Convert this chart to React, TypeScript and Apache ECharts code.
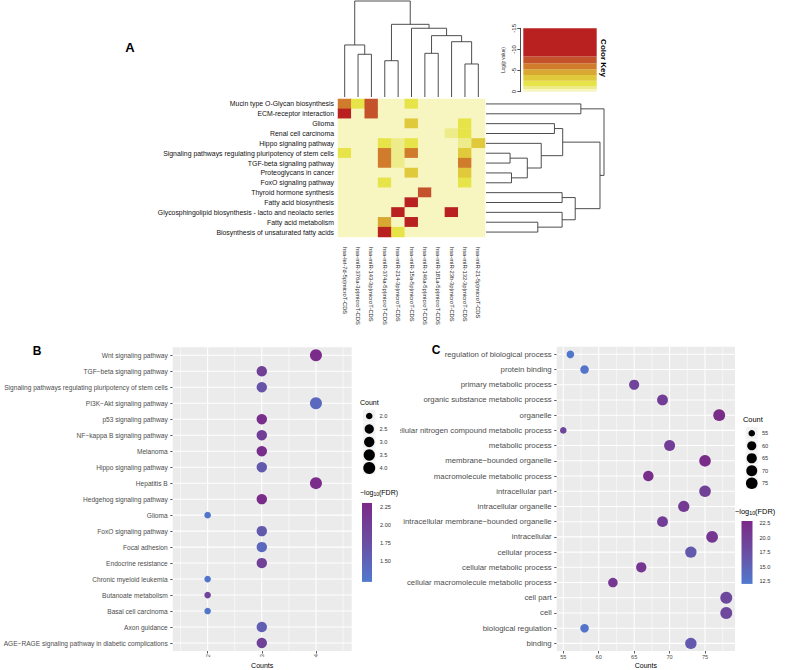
import React, { useEffect, useRef } from 'react';
import * as echarts from 'echarts';

const W = 789;
const H = 670;
const FONT = '"Liberation Sans", Arial, Helvetica, sans-serif';

// ---------------- Panel A: heatmap ----------------
const heatRows = [
  'Mucin type O-Glycan biosynthesis',
  'ECM-receptor interaction',
  'Glioma',
  'Renal cell carcinoma',
  'Hippo signaling pathway',
  'Signaling pathways regulating pluripotency of stem cells',
  'TGF-beta signaling pathway',
  'Proteoglycans in cancer',
  'FoxO signaling pathway',
  'Thyroid hormone synthesis',
  'Fatty acid biosynthesis',
  'Glycosphingolipid biosynthesis - lacto and neolacto series',
  'Fatty acid metabolism',
  'Biosynthesis of unsaturated fatty acids',
];
const heatCols = [
  'hsa-let-7d-5p|microT-CDS',
  'hsa-miR-376a-3p|microT-CDS',
  'hsa-miR-143-3p|microT-CDS',
  'hsa-miR-374a-5p|microT-CDS',
  'hsa-miR-214-3p|microT-CDS',
  'hsa-miR-15a-5p|microT-CDS',
  'hsa-miR-146a-5p|microT-CDS',
  'hsa-miR-181a-5p|microT-CDS',
  'hsa-miR-23b-3p|microT-CDS',
  'hsa-miR-132-3p|microT-CDS',
  'hsa-miR-21-5p|microT-CDS',
];
// log(p value), one row per pathway, columns in heatCols order
const heatValues = [
  [-5.5, -2, -7.5, 0, 0, -2, 0, 0, 0, 0, 0],
  [-10, 0, -7.5, 0, 0, 0, 0, 0, 0, 0, 0],
  [0, 0, 0, 0, 0, -3.3, 0, 0, 0, -2, 0],
  [0, 0, 0, 0, 0, 0, 0, 0, -1, -2, 0],
  [0, 0, 0, -2, -1, -2, 0, 0, 0, -1, -3.3],
  [-2, 0, 0, -5.5, -1, -5.5, 0, 0, 0, -3.3, 0],
  [0, 0, 0, -5.5, -1, 0, 0, 0, 0, -5.5, 0],
  [0, 0, 0, 0, 0, -3.3, 0, 0, 0, -3.3, 0],
  [0, 0, 0, -2, 0, 0, 0, 0, 0, -2, 0],
  [0, 0, 0, 0, 0, 0, -7.8, 0, 0, 0, 0],
  [0, 0, 0, 0, 0, -11, 0, 0, 0, 0, 0],
  [0, 0, 0, 0, -11, 0, 0, 0, -11, 0, 0],
  [0, 0, 0, -4.6, 0, -10, 0, 0, 0, 0, 0],
  [0, 0, 0, -12, -2, 0, 0, 0, 0, 0, 0],
];
// colour key breaks (log p value) and colours, pale -> red
const keyBreaks = [0, -0.65, -1.35, -2.6, -3.95, -5.3, -6.75, -8.3, -15];
const keyColors = ['#f7f5c0', '#eeec8a', '#e7e449', '#e0c93a', '#d9a833', '#d17b2c', '#c4522a', '#b8211f'];
const keyTicks = [-15, -10, -5, 0];

// dendrograms: [left, right, height(0..1)]; leaves are indices
type Tree = number | [Tree, Tree, number];
const colTree: Tree = [
  [0, [1, 2, 0.445], 0.542],
  [[3, 4, 0.378], [5, [[6, 7, 0.455], [8, [9, 10, 0.344], 0.576], 0.639], 0.716], 0.757],
  1.0,
];
const rowTree: Tree = [
  [0, 1, 0.804],
  [
    [[2, 3, 0.58], [4, [[5, 6, 0.204], [7, 8, 0.216], 0.35], 0.468], 0.65],
    [[9, 10, 0.645], [11, [12, 13, 0.439], 0.645], 0.756],
    0.966,
  ],
  1.0,
];

// ---------------- Panel B: KEGG dot plot ----------------
const keggTerms = [
  'Wnt signaling pathway',
  'TGF−beta signaling pathway',
  'Signaling pathways regulating pluripotency of stem cells',
  'PI3K−Akt signaling pathway',
  'p53 signaling pathway',
  'NF−kappa B signaling pathway',
  'Melanoma',
  'Hippo signaling pathway',
  'Hepatitis B',
  'Hedgehog signaling pathway',
  'Glioma',
  'FoxO signaling pathway',
  'Focal adhesion',
  'Endocrine resistance',
  'Chronic myeloid leukemia',
  'Butanoate metabolism',
  'Basal cell carcinoma',
  'Axon guidance',
  'AGE−RAGE signaling pathway in diabetic complications',
];
const keggCounts = [4, 3, 3, 4, 3, 3, 3, 3, 4, 3, 2, 3, 3, 3, 2, 2, 2, 3, 3];
const keggLogFdr = [2.29, 1.97, 1.7, 1.42, 2.24, 2.02, 2.24, 1.62, 2.29, 2.27, 1.26, 1.62, 1.42, 1.97, 1.26, 1.92, 1.26, 1.55, 1.97];
const keggXMajor = [2, 3, 4];
const keggXMinor = [1.5, 2.5, 3.5, 4.5];
const keggXRange = [1.355, 4.66];
const keggSizeLegend = [2.0, 2.5, 3.0, 3.5, 4.0];
const keggFdrTicks = [1.5, 1.75, 2.0, 2.25];
const keggFdrRange = [1.21, 2.306];

// ---------------- Panel C: GO dot plot ----------------
const goTerms = [
  'regulation of biological process',
  'protein binding',
  'primary metabolic process',
  'organic substance metabolic process',
  'organelle',
  'cellular nitrogen compound metabolic process',
  'metabolic process',
  'membrane−bounded organelle',
  'macromolecule metabolic process',
  'intracellular part',
  'intracellular organelle',
  'intracellular membrane−bounded organelle',
  'intracellular',
  'cellular process',
  'cellular metabolic process',
  'cellular macromolecule metabolic process',
  'cell part',
  'cell',
  'biological regulation',
  'binding',
];
const goCounts = [56, 58, 65, 69, 77, 55, 70, 75, 67, 75, 72, 69, 76, 73, 66, 62, 78, 78, 58, 73];
const goLogFdr = [12.3, 12.6, 19, 20, 22.6, 19, 20, 22.6, 22.2, 19.5, 20.5, 20, 21, 16, 21, 21, 18.5, 18.5, 12.6, 16];
const goXMajor = [55, 60, 65, 70, 75];
const goXMinor = [57.5, 62.5, 67.5, 72.5, 77.5];
const goXRange = [54.07, 79.23];
const goSizeLegend = [55, 60, 65, 70, 75];
const goFdrTicks = [12.5, 15, 17.5, 20, 22.5];
const goFdrRange = [12.0, 22.85];
const goClippedRows = [5, 15];

const lowC = '#5079cf';
const midC = '#6a4fa2';
const highC = '#7b2a88';

function sizeOf(c: number, min: number, max: number) {
  return 6.6 + 5.4 * Math.sqrt(Math.max(0, (c - min) / (max - min)));
}

const hidden = { show: false };

function dotAxes(gridIndex: number, range: number[], major: number[], rotate: number, terms: string[], fs: number) {
  const x = {
    type: 'value', gridIndex, min: range[0], max: range[1],
    splitLine: hidden, axisLine: hidden,
    axisTick: { show: true, length: 2.5, lineStyle: { color: '#333', width: 0.8 }, customValues: major },
    axisLabel: {
      customValues: major, rotate, fontSize: 5.6, color: '#4d4d4d', fontFamily: FONT, margin: 3,
      formatter: (v: number) => (major.indexOf(v) >= 0 ? String(v) : ''),
    },
    name: 'Counts', nameLocation: 'middle', nameGap: 11,
    nameTextStyle: { fontSize: 7, color: '#000', fontFamily: FONT },
  };
  const y = {
    type: 'category', gridIndex, data: terms, inverse: true,
    axisLine: hidden, splitLine: hidden,
    axisTick: { show: true, alignWithLabel: true, length: 2.5, lineStyle: { color: '#333', width: 0.8 } },
    axisLabel: { fontSize: fs, color: '#4d4d4d', fontFamily: FONT, margin: 5, interval: 0 },
  };
  return { x, y };
}

function buildOption() {
  const b = dotAxes(2, keggXRange, keggXMajor, 90, keggTerms, 6.6);
  const c = dotAxes(3, goXRange, goXMajor, 0, goTerms, 7.8);

  const catHidden = (gridIndex: number) => ({ type: 'category', gridIndex, data: ['k'], show: false });

  const xAxis: any[] = [
    {
      type: 'category', gridIndex: 0, data: heatCols,
      axisLine: hidden, axisTick: hidden, splitLine: hidden,
      axisLabel: { rotate: -90, fontSize: 5.8, color: '#222', fontFamily: FONT, margin: 10, interval: 0 },
    },
    catHidden(1),
    b.x,
    c.x,
    catHidden(4),
    catHidden(5),
    catHidden(6),
    catHidden(7),
  ];

  const legendCat = (gridIndex: number, vals: number[], dec: number) => ({
    type: 'category', gridIndex, data: vals.map((v) => v.toFixed(dec)), inverse: true, position: 'right',
    axisLine: hidden, axisTick: hidden, splitLine: hidden,
    axisLabel: { fontSize: 5.6, color: '#333', fontFamily: FONT, margin: 4 },
  });
  const barAxis = (gridIndex: number, min: number, max: number, interval: number, ticks: number[], dec: number, margin: number) => ({
    type: 'value', gridIndex, min, max, interval, position: 'right',
    axisLine: hidden, axisTick: hidden, splitLine: hidden,
    axisLabel: {
      fontSize: 5.6, color: '#333', fontFamily: FONT, margin,
      formatter: (v: number) => (ticks.some((t) => Math.abs(t - v) < 1e-6) ? v.toFixed(dec) : ''),
    },
  });

  const yAxis: any[] = [
    {
      type: 'category', gridIndex: 0, data: heatRows, inverse: true,
      axisLine: hidden, axisTick: hidden, splitLine: hidden,
      axisLabel: { fontSize: 6.9, color: '#111', fontFamily: FONT, margin: 4, interval: 0 },
    },
    {
      type: 'value', gridIndex: 1, min: -15, max: 0, interval: 5, inverse: true, position: 'left', offset: 3,
      axisLine: { show: true, lineStyle: { color: '#222', width: 0.8 } },
      axisTick: { show: true, length: 3, lineStyle: { color: '#222', width: 0.8 } },
      splitLine: hidden,
      axisLabel: { rotate: 90, fontSize: 6, color: '#222', fontFamily: FONT, margin: 3,
        formatter: (v: number) => (keyTicks.indexOf(v) >= 0 ? String(v) : '') },
      name: 'Log(p value)', nameLocation: 'middle', nameRotate: 90, nameGap: 14,
      nameTextStyle: { fontSize: 4.6, color: '#222', fontFamily: FONT },
    },
    b.y,
    c.y,
    legendCat(4, keggSizeLegend, 1),
    legendCat(5, goSizeLegend, 0),
    barAxis(6, 1.0, 2.5, 0.25, keggFdrTicks, 2, 8),
    barAxis(7, 10, 25, 2.5, goFdrTicks, 1, 7),
  ];

  const series: any[] = [];
  series.push({
    type: 'heatmap', xAxisIndex: 0, yAxisIndex: 0,
    data: heatValues.flatMap((row, r) => row.map((v, ci) => [ci, r, v])),
    itemStyle: { borderWidth: 0 },
    emphasis: { disabled: true },
  });
  const heatIdx = 0;
  keyColors.forEach((col, i) => {
    series.push({
      type: 'bar', xAxisIndex: 1, yAxisIndex: 1, stack: 'key', barWidth: '100%',
      data: [keyBreaks[i + 1] - keyBreaks[i]],
      itemStyle: { color: col },
      emphasis: { disabled: true }, silent: true,
    });
  });
  const bIdx = series.length;
  series.push({
    type: 'scatter', xAxisIndex: 2, yAxisIndex: 2, z: 5,
    data: keggTerms.map((t, i) => [keggCounts[i], t, keggLogFdr[i]]),
    symbolSize: (v: any) => sizeOf(v[0], 2, 4),
    itemStyle: { opacity: 1 },
    emphasis: { disabled: true },
  });
  const cIdx = series.length;
  series.push({
    type: 'scatter', xAxisIndex: 3, yAxisIndex: 3, z: 5,
    data: goTerms.map((t, i) => [goCounts[i], t, goLogFdr[i]]),
    symbolSize: (v: any) => sizeOf(v[0], 55, 78),
    itemStyle: { opacity: 1 },
    emphasis: { disabled: true },
  });
  const sizeLegend = (axis: number, vals: number[], dec: number, min: number, max: number, key: number) => {
    series.push({
      type: 'scatter', xAxisIndex: axis, yAxisIndex: axis, z: 1, symbol: 'rect', symbolSize: key,
      data: vals.map((v) => ['k', v.toFixed(dec)]),
      itemStyle: { color: '#f2f2f2', opacity: 1 }, silent: true, emphasis: { disabled: true },
    });
    series.push({
      type: 'scatter', xAxisIndex: axis, yAxisIndex: axis, z: 3,
      data: vals.map((v) => ['k', v.toFixed(dec), v]),
      symbolSize: (v: any) => sizeOf(v[2], min, max),
      itemStyle: { color: '#000', opacity: 1 }, silent: true, emphasis: { disabled: true },
    });
  };
  sizeLegend(4, keggSizeLegend, 1, 2, 4, 12.5);
  sizeLegend(5, goSizeLegend, 0, 55, 78, 12);
  const colourBar = (axis: number, range: number[]) => {
    series.push({
      type: 'bar', xAxisIndex: axis, yAxisIndex: axis, stack: 'cb' + axis, barWidth: '100%',
      data: [range[0]], itemStyle: { color: 'rgba(0,0,0,0)' }, silent: true, emphasis: { disabled: true },
    });
    series.push({
      type: 'bar', xAxisIndex: axis, yAxisIndex: axis, stack: 'cb' + axis, barWidth: '100%',
      data: [range[1] - range[0]], silent: true, emphasis: { disabled: true },
      itemStyle: {
        color: new echarts.graphic.LinearGradient(0, 0, 0, 1, [
          { offset: 0, color: highC },
          { offset: 0.5, color: midC },
          { offset: 1, color: lowC },
        ]),
      },
    });
  };
  colourBar(6, keggFdrRange);
  colourBar(7, goFdrRange);

  const panelGrid = (left: number, top: number, width: number, height: number) => ({
    left, top, width, height, show: true, backgroundColor: '#ebebeb', borderWidth: 0, borderColor: 'rgba(0,0,0,0)',
  });

  return {
    animation: false,
    backgroundColor: '#ffffff',
    textStyle: { fontFamily: FONT },
    grid: [
      { left: 338, top: 99, width: 147, height: 138 },
      { left: 523.3, top: 28.3, width: 73.4, height: 63.4 },
      panelGrid(172.7, 347.3, 179, 304.4),
      panelGrid(556.7, 346.7, 178.3, 305),
      { left: 363, top: 409.5, width: 12.5, height: 65 },
      { left: 745.5, top: 427, width: 12.5, height: 62.5 },
      { left: 362, top: 489, width: 10, height: 108 },
      { left: 741.5, top: 508.5, width: 11, height: 87 },
    ],
    xAxis,
    yAxis,
    visualMap: [
      {
        type: 'piecewise', show: false, seriesIndex: heatIdx, dimension: 2,
        pieces: keyColors.map((col, i) => ({ gt: keyBreaks[i + 1], lte: keyBreaks[i] + (i === 0 ? 0.01 : 0), color: col })),
      },
      {
        type: 'continuous', show: false, seriesIndex: bIdx, dimension: 2,
        min: keggFdrRange[0], max: keggFdrRange[1], inRange: { color: [lowC, midC, highC] },
      },
      {
        type: 'continuous', show: false, seriesIndex: cIdx, dimension: 2,
        min: goFdrRange[0], max: goFdrRange[1], inRange: { color: [lowC, midC, highC] },
      },
    ],
    series,
  };
}

function buildGraphics(chart: any) {
  const els: any[] = [];
  // ---- dendrograms, placed on the heatmap's own category positions
  const px = (c: string, r: string) => chart.convertToPixel({ gridIndex: 0 }, [c, r]);
  const p00 = px(heatCols[0], heatRows[0]);
  const p11 = px(heatCols[1], heatRows[1]);
  const cw = p11[0] - p00[0];
  const ch = p11[1] - p00[1];
  const heatTop = p00[1] - ch / 2;
  const heatRight = px(heatCols[heatCols.length - 1], heatRows[0])[0] + cw / 2;
  const colX = heatCols.map((c) => px(c, heatRows[0])[0]);
  const rowY = heatRows.map((r) => px(heatCols[0], r)[1]);
  const lineStyle = { stroke: '#3a3a3a', lineWidth: 0.9, fill: null };

  const walk = (t: Tree, leaf: (i: number) => number, base: number, hpos: (h: number) => number, vertical: boolean): { p: number; q: number } => {
    if (typeof t === 'number') return { p: leaf(t), q: base };
    const a = walk(t[0], leaf, base, hpos, vertical);
    const b = walk(t[1], leaf, base, hpos, vertical);
    const q = hpos(t[2]);
    const pts = vertical
      ? [[a.p, a.q], [a.p, q], [b.p, q], [b.p, b.q]]
      : [[a.q, a.p], [q, a.p], [q, b.p], [b.q, b.p]];
    els.push({ type: 'polyline', shape: { points: pts }, style: lineStyle, silent: true });
    return { p: (a.p + b.p) / 2, q };
  };
  const colBase = heatTop - 2;
  walk(colTree, (i) => colX[i], colBase, (h) => colBase - h * (colBase - 1), true);
  const rowBase = heatRight + 1;
  walk(rowTree, (i) => rowY[i], rowBase, (h) => rowBase + h * (604 - rowBase), false);

  // ---- ggplot panel grid lines, from the panels' own scales
  const panelLines = (gridIndex: number, terms: string[], range: number[], major: number[], minor: number[]) => {
    const cp = (x: number, t: string) => chart.convertToPixel({ gridIndex }, [x, t]);
    const first = cp(range[0], terms[0]);
    const last = cp(range[1], terms[terms.length - 1]);
    const band = (last[1] - first[1]) / (terms.length - 1);
    const left = first[0];
    const right = last[0];
    const top = first[1] - band / 2;
    const bottom = last[1] + band / 2;
    terms.forEach((t) => {
      const y = cp(range[0], t)[1];
      els.push({ type: 'line', z: 2, silent: true, shape: { x1: left, y1: y, x2: right, y2: y }, style: { stroke: '#ffffff', lineWidth: 1.05 } });
    });
    major.forEach((v) => {
      const x = cp(v, terms[0])[0];
      els.push({ type: 'line', z: 2, silent: true, shape: { x1: x, y1: top, x2: x, y2: bottom }, style: { stroke: '#ffffff', lineWidth: 1.05 } });
    });
    minor.forEach((v) => {
      const x = cp(v, terms[0])[0];
      els.push({ type: 'line', z: 2, silent: true, shape: { x1: x, y1: top, x2: x, y2: bottom }, style: { stroke: '#ffffff', lineWidth: 0.55 } });
    });
  };
  panelLines(2, keggTerms, keggXRange, keggXMajor, keggXMinor);
  panelLines(3, goTerms, goXRange, goXMajor, goXMinor);

  // ---- titles and legend headings
  const text = (s: string, x: number, y: number, size: number, opts: any = {}) => ({
    type: 'text', x, y, rotation: opts.rotation || 0, silent: true, z: 50,
    style: {
      text: s, fontSize: size, fontFamily: FONT, fontWeight: opts.bold ? 'bold' : 'normal', fill: opts.fill || '#000',
      align: opts.align || 'left', verticalAlign: 'middle', textAlign: opts.align || 'left', textVerticalAlign: 'middle',
    },
  });
  els.push(text('A', 130, 47, 13, { bold: true, align: 'center' }));
  els.push(text('B', 37, 351, 12, { bold: true, align: 'center' }));
  els.push(text('C', 436, 350, 12, { bold: true, align: 'center' }));
  els.push(text('Color Key', 603.5, 58, 8, { bold: true, align: 'center', rotation: -Math.PI / 2 }));
  els.push(text('Count', 360, 402.7, 7));
  els.push(text('Count', 743, 419.3, 7.4));

  const fdrTitle = (x: number, y: number, size: number) => ({
    type: 'text', x, y, silent: true, z: 50,
    style: {
      text: '{a|−log}{s|10}{a|(FDR)}',
      fontFamily: FONT, fill: '#000', align: 'left', verticalAlign: 'middle', textAlign: 'left', textVerticalAlign: 'middle',
      rich: {
        a: { fontSize: size, fontFamily: FONT, fill: '#000' },
        s: { fontSize: size * 0.72, fontFamily: FONT, fill: '#000', padding: [size * 0.55, 0, 0, 0] },
      },
    },
  });
  els.push(fdrTitle(360, 492, 7));
  els.push(fdrTitle(735, 511, 7.4));

  // panel C's labels are cut at the left border of its own image
  goClippedRows.forEach((r) => {
    const y = chart.convertToPixel({ gridIndex: 3 }, [goXRange[0], goTerms[r]])[1];
    els.push({ type: 'rect', shape: { x: 390.5, y: y - 6, width: 9.5, height: 12 }, style: { fill: '#ffffff' }, z: 100, silent: true });
  });
  return els;
}

export default function App() {
  const ref = useRef<HTMLDivElement>(null);
  useEffect(() => {
    const el = ref.current;
    if (!el) return;
    const chart = echarts.init(el, undefined, { renderer: 'svg', width: W, height: H });
    chart.setOption(buildOption() as any);
    chart.setOption({ graphic: { elements: buildGraphics(chart) } } as any);
    return () => chart.dispose();
  }, []);
  return (
    <div
      ref={ref}
      style={{ position: 'absolute', left: 0, top: 0, width: W, height: H, background: '#ffffff' }}
    />
  );
}
